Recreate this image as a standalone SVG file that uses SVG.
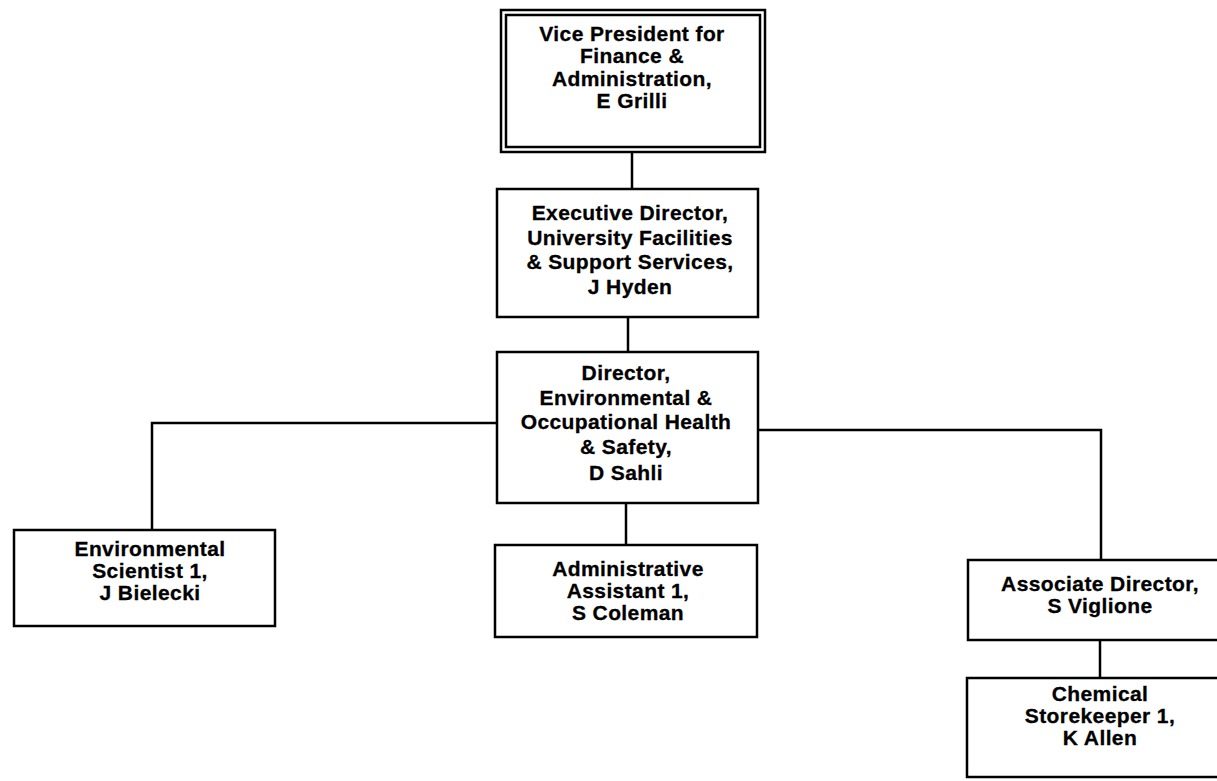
<svg xmlns="http://www.w3.org/2000/svg" width="1217" height="781" viewBox="0 0 1217 781">
<style>
.box{fill:#fff;stroke:#000;stroke-width:2.5}
.ln{fill:none;stroke:#000;stroke-width:2.5}
text{font-family:"Liberation Sans",Arial,sans-serif;font-weight:bold;font-size:21px;fill:#000;stroke:#000;stroke-width:0.3;text-anchor:middle;letter-spacing:0.4px}
</style>
<rect width="1217" height="781" fill="#fff"/>
<g id="connectors">
<line class="ln" x1="632" y1="152" x2="632" y2="189"/>
<line class="ln" x1="628" y1="317" x2="628" y2="352"/>
<path class="ln" d="M497,423 H152 V530"/>
<path class="ln" d="M758,430 H1101 V560"/>
<line class="ln" x1="626" y1="503" x2="626" y2="545"/>
<line class="ln" x1="1100" y1="640" x2="1100" y2="678"/>
</g>
<g id="vp">
<rect class="box" x="501" y="10" width="264" height="142"/>
<rect class="box" x="506" y="15" width="254" height="132"/>
<text x="632" y="41">Vice President for</text>
<text x="632" y="63">Finance &amp;</text>
<text x="632" y="86">Administration,</text>
<text x="632" y="108">E Grilli</text>
</g>
<g id="exec">
<rect class="box" x="497" y="189" width="261" height="128"/>
<text x="630" y="220">Executive Director,</text>
<text x="630" y="245">University Facilities</text>
<text x="630" y="269">&amp; Support Services,</text>
<text x="630" y="294">J Hyden</text>
</g>
<g id="director">
<rect class="box" x="497" y="352" width="261" height="151"/>
<text x="626" y="380">Director,</text>
<text x="626" y="405">Environmental &amp;</text>
<text x="626" y="429">Occupational Health</text>
<text x="626" y="454">&amp; Safety,</text>
<text x="626" y="480">D Sahli</text>
</g>
<g id="envsci">
<rect class="box" x="14" y="530" width="261" height="96"/>
<text x="150" y="556">Environmental</text>
<text x="150" y="578">Scientist 1,</text>
<text x="150" y="600">J Bielecki</text>
</g>
<g id="admin">
<rect class="box" x="495" y="545" width="262" height="92"/>
<text x="628" y="576">Administrative</text>
<text x="628" y="598">Assistant 1,</text>
<text x="628" y="620">S Coleman</text>
</g>
<g id="assoc">
<rect class="box" x="968" y="560" width="260" height="80"/>
<text x="1100" y="591">Associate Director,</text>
<text x="1100" y="613">S Viglione</text>
</g>
<g id="chem">
<rect class="box" x="967" y="678" width="260" height="99"/>
<text x="1100" y="701">Chemical</text>
<text x="1100" y="723">Storekeeper 1,</text>
<text x="1100" y="745">K Allen</text>
</g>
</svg>
